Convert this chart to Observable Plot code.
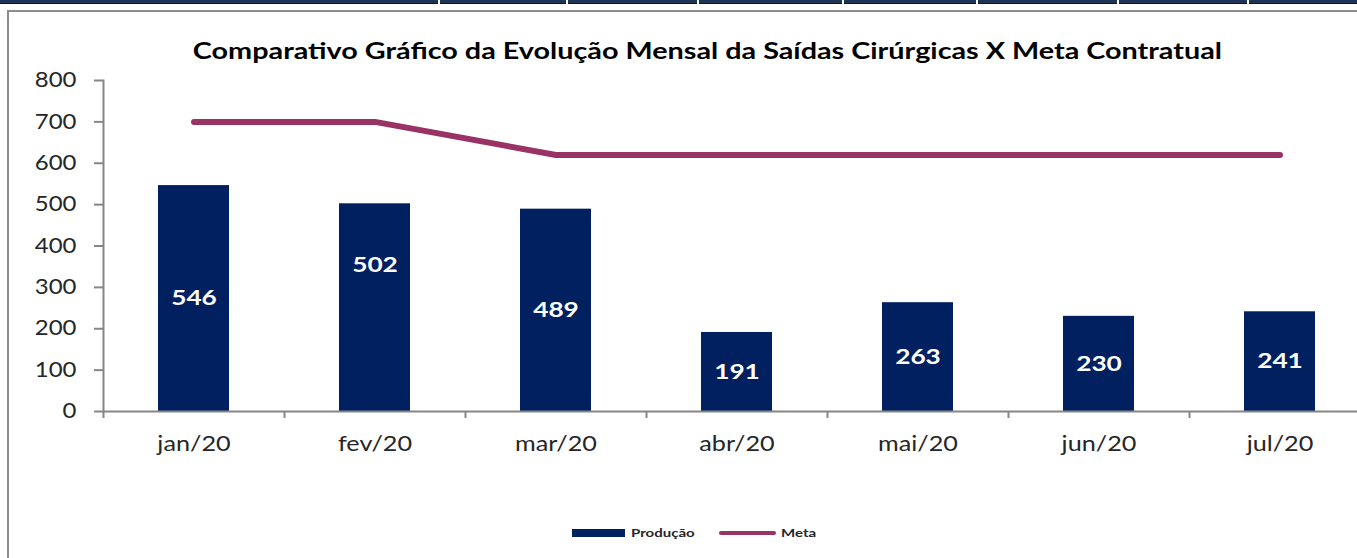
<!DOCTYPE html>
<html><head><meta charset="utf-8">
<script src="https://cdn.jsdelivr.net/npm/d3@7"></script>
<script src="https://cdn.jsdelivr.net/npm/@observablehq/plot@0.6"></script>
<style>
html,body{margin:0;padding:0;}
body{width:1357px;height:558px;overflow:hidden;background:#fff;position:relative;font-family:Lato,"Open Sans",sans-serif;color:#262626}
#topbar{position:absolute;left:0;top:0;width:1357px;height:3px;background:#1f3454;border-bottom:1px solid #0d1a2c}
.sep{position:absolute;top:0;width:2px;height:4px;background:#fff}
#frame{position:absolute;left:7px;top:10px;width:1420px;height:600px;border-left:2px solid #8c8c8c;border-top:2px solid #8c8c8c}
#title{position:absolute;top:37px;left:0;width:1415px;text-align:center;font-weight:bold;font-size:22px;color:#000;white-space:nowrap}
#title span{display:inline-block;transform-origin:center}
#chart{position:absolute;left:0;top:0}
#chart svg{max-width:none !important}
.lg{position:absolute;font-size:12px;font-weight:bold;color:#262626;white-space:nowrap;transform-origin:left center;transform:scaleX(1.25)}
</style></head>
<body>
<div id="topbar"></div>
<div class="sep" style="left:438px"></div><div class="sep" style="left:566px"></div><div class="sep" style="left:697px"></div>
<div class="sep" style="left:842px"></div><div class="sep" style="left:976px"></div><div class="sep" style="left:1117px"></div><div class="sep" style="left:1247px"></div>
<div id="frame"></div>
<div id="chart"></div>
<div id="title"><span id="titletext">Comparativo Gráfico da Evolução Mensal da Saídas Cirúrgicas X Meta Contratual</span></div>
<div style="position:absolute;left:572px;top:529px;width:53px;height:8px;background:#002060"></div>
<div class="lg" style="left:631px;top:525px">Produção</div>
<div style="position:absolute;left:719px;top:531px;width:57px;height:4px;border-radius:2px;background:#993366"></div>
<div class="lg" style="left:781px;top:525px">Meta</div>
<script>
const months = ["jan/20","fev/20","mar/20","abr/20","mai/20","jun/20","jul/20"];
const producao = [546, 502, 489, 191, 263, 230, 241];
const meta = [700, 700, 620, 620, 620, 620, 620];
const yTicks = [0, 100, 200, 300, 400, 500, 600, 700, 800];

const data = months.map((m, i) => ({mes: m, producao: producao[i], meta: meta[i]}));
const axisColor = "#868686";

const chart = Plot.plot({
  width: 1370, height: 470,
  marginLeft: 103, marginRight: 0, marginTop: 80, marginBottom: 59,
  style: {fontFamily: "Lato, 'Open Sans', sans-serif", fontSize: "21px", color: "#262626", background: "transparent", overflow: "visible", maxWidth: "none"},
  x: {domain: months, paddingInner: 0.61, paddingOuter: 0.305, axis: null, label: null},
  y: {domain: [0, 800], axis: null, label: null},
  marks: [
    Plot.barY(data, {x: "mes", y: "producao", fill: "#002060"}),
    Plot.lineY(data, {x: "mes", y: "meta", stroke: "#993366", strokeWidth: 6, strokeLinecap: "round", strokeLinejoin: "round"}),
    Plot.text(data.filter(d => d.mes !== "fev/20"), {x: "mes", y: d => d.producao / 2, text: d => String(d.producao), fill: "white", fontWeight: "bold", fontSize: 21, className: "vlabel"}),
    Plot.text(data.filter(d => d.mes === "fev/20"), {x: "mes", y: d => d.producao / 2, text: d => String(d.producao), fill: "white", fontWeight: "bold", fontSize: 21, dy: -42, className: "vlabel"}),
    Plot.axisY({ticks: yTicks, tickSize: 9, tickPadding: 18, stroke: axisColor, strokeWidth: 2, fontSize: 21, fill: "#262626", label: null, className: "ylab"}),
    Plot.frame({anchor: "left", stroke: axisColor, strokeWidth: 2}),
    Plot.ruleY([0], {stroke: axisColor, strokeWidth: 2}),
    Plot.axisX({tickSize: 7, tickFormat: () => "", stroke: axisColor, strokeWidth: 2, dx: -90.5, label: null}),
    Plot.axisX({tickSize: 0, tickPadding: 25, fontSize: 21, fill: "#262626", label: null, className: "xlab"})
  ]
});
document.getElementById("chart").appendChild(chart);

function stretch(selector, factor) {
  chart.querySelectorAll(selector).forEach(t => {
    const w = t.getComputedTextLength();
    if (w > 0) {
      t.setAttribute("textLength", (w * factor).toFixed(1));
      t.setAttribute("lengthAdjust", "spacingAndGlyphs");
    }
  });
}
stretch(".ylab text", 1.14);
stretch(".xlab text", 1.2);
stretch(".vlabel text", 1.25);

const tt = document.getElementById("titletext");
const tw = tt.getBoundingClientRect().width;
tt.style.transform = `scaleX(${(1029 / tw).toFixed(3)})`;
</script>
</body></html>
